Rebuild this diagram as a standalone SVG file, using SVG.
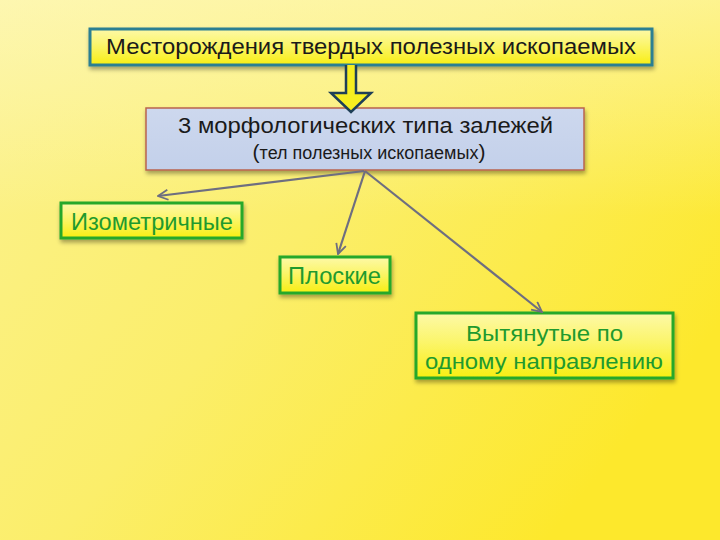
<svg xmlns="http://www.w3.org/2000/svg" width="720" height="540" viewBox="0 0 720 540">
<defs>
<linearGradient id="bg" x1="0" y1="0" x2="1" y2="0.6">
<stop offset="0" stop-color="#fbf290"/>
<stop offset="0.5" stop-color="#fbee6a"/>
<stop offset="1" stop-color="#fde82c"/>
</linearGradient>
<linearGradient id="bgtop" x1="0" y1="0" x2="0" y2="1">
<stop offset="0" stop-color="#fffbd0" stop-opacity="0.5"/>
<stop offset="0.4" stop-color="#fffbd0" stop-opacity="0"/>
</linearGradient>
<linearGradient id="yel" x1="0" y1="0" x2="0" y2="1">
<stop offset="0" stop-color="#fdf9a8"/>
<stop offset="0.45" stop-color="#fbf56a"/>
<stop offset="1" stop-color="#f8ee12"/>
</linearGradient>
<linearGradient id="blu" x1="0" y1="0" x2="0" y2="1">
<stop offset="0" stop-color="#cdd8ee"/>
<stop offset="1" stop-color="#c3d0ea"/>
</linearGradient>
<filter id="sh" x="-10%" y="-20%" width="120%" height="160%">
<feDropShadow dx="1" dy="3" stdDeviation="2" flood-color="#000" flood-opacity="0.35"/>
</filter>
<marker id="ah" viewBox="0 0 12 12" refX="11" refY="6" markerWidth="12" markerHeight="12" markerUnits="userSpaceOnUse" orient="auto">
<path d="M1,1 L11,6 L1,11" fill="none" stroke="#6e6e80" stroke-width="1.8"/>
</marker>
</defs>
<style>
.t{font-family:"Liberation Sans",Arial,sans-serif;text-anchor:middle}
.dark{fill:#1a1a1a}
.grn{fill:#1f9a2e}
.gbox{fill:url(#yel);stroke:#27a82a;stroke-width:3;filter:url(#sh)}
.conn{stroke:#6e6e80;stroke-width:2.2;fill:none;marker-end:url(#ah)}
</style>
<rect width="720" height="540" fill="url(#bg)"/>
<rect width="720" height="540" fill="url(#bgtop)"/>

<g id="top">
<rect x="90" y="29" width="562" height="36" fill="url(#yel)" stroke="#2a7f92" stroke-width="3" filter="url(#sh)"/>
<text class="t dark" x="371" y="54" font-size="22" textLength="530" lengthAdjust="spacingAndGlyphs">Месторождения твердых полезных ископаемых</text>
</g>

<g id="middle">
<rect x="146" y="108" width="438" height="62" fill="url(#blu)" stroke="#b9634e" stroke-width="1.5" filter="url(#sh)"/>
<text class="t dark" x="365.5" y="133" font-size="22" textLength="375" lengthAdjust="spacingAndGlyphs">3 морфологических типа залежей</text>
<text class="t dark" x="369" y="159" font-size="18"><tspan font-size="21">(</tspan>тел полезных ископаемых<tspan font-size="21">)</tspan></text>
</g>

<g id="iso">
<rect class="gbox" x="61" y="203" width="181" height="35"/>
<text class="t grn" x="152" y="230" font-size="23" textLength="162" lengthAdjust="spacingAndGlyphs">Изометричные</text>
</g>

<g id="flat">
<rect class="gbox" x="280" y="257" width="110" height="36"/>
<text class="t grn" x="334.5" y="284" font-size="23" textLength="93" lengthAdjust="spacingAndGlyphs">Плоские</text>
</g>

<g id="long">
<rect class="gbox" x="416" y="313" width="257" height="65"/>
<text class="t grn" x="544.5" y="341" font-size="22" textLength="157" lengthAdjust="spacingAndGlyphs">Вытянутые по</text>
<text class="t grn" x="544" y="369" font-size="22" textLength="238" lengthAdjust="spacingAndGlyphs">одному направлению</text>
</g>

<g id="connectors">
<path d="M346,65 V93 H331 L351,112 L371,93 H356 V65" fill="#f6ee20" stroke="#1e3f57" stroke-width="2.5" stroke-linejoin="miter"/>
<line class="conn" x1="364" y1="171" x2="158" y2="196"/>
<line class="conn" x1="365" y1="171" x2="338" y2="254"/>
<line class="conn" x1="365" y1="171" x2="542" y2="312"/>
</g>
</svg>
